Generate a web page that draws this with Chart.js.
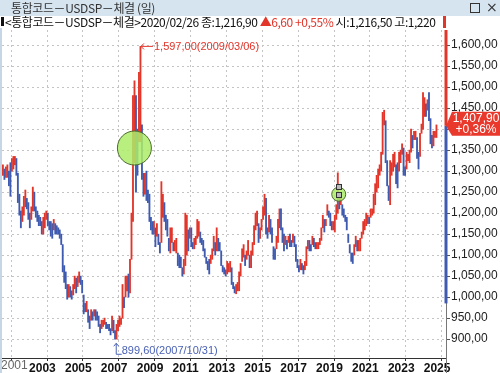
<!DOCTYPE html>
<html>
<head>
<meta charset="utf-8">
<script src="https://cdn.jsdelivr.net/npm/chart.js@4.4.1/dist/chart.umd.min.js"></script>
<style>
    body { margin: 0; background: #fff; width: 500px; height: 373px; overflow: hidden; position: relative; font-family: "Noto Sans CJK KR", sans-serif; }
    #chart { position: absolute; left: 0; top: 0; }
    #titlebar { position: absolute; left: 0; top: 0; width: 500px; height: 16px; background: #d6e4f0; color: #333; font-size: 12px; line-height: 16px; z-index: 2; }
    #titlebar .t { position: absolute; left: 11px; top: 0; letter-spacing: -0.4px; }
    #titlebar .box { position: absolute; left: 470px; top: 3px; width: 8px; height: 8px; border: 1.5px solid #333; }
    #titlebar .x { position: absolute; left: 486px; top: -1px; font-size: 14px; font-family: "DejaVu Sans", sans-serif; color: #333; }
    #infoline { position: absolute; left: 0; top: 15px; height: 13px; width: 500px; font-size: 12px; line-height: 13px; color: #111; white-space: nowrap; z-index: 2; letter-spacing: -0.45px; }
    #infoline .mark { position: absolute; left: 1px; top: 2px; width: 3px; height: 9px; background: #111; }
    #infoline .txt { position: absolute; left: 5px; top: 0; }
    #infoline .up { color: #e2362b; }
    #infoline .cursor { position: absolute; left: 443px; top: 1px; width: 3px; height: 12px; background: #e2362b; }
    #leftstrip { position: absolute; left: 0; top: 28px; width: 2px; height: 345px; background: #c6d6e6; z-index: 2; }
</style>
</head>
<body>
<canvas id="chart" width="500" height="373"></canvas>
<div id="titlebar"><span class="t">통합코드－USDSP－체결 (일)</span><div class="box"></div><span class="x">×</span></div>
<div id="infoline"><span class="mark"></span><span class="txt">&lt;통합코드－USDSP－체결&gt;2020/02/26 종:1,216,90 <span class="up">▲6,60 +0,55%</span> 시:1,216,50 고:1,220</span><span class="cursor"></span></div>
<div id="leftstrip"></div>
<script>
// Monthly USD/KRW ranges, Jul 2001 .. Sep 2025
const startYear = 2001;
const startMonth = 7;

const lows = [
    1290, 1280, 1285, 1285, 1265, 1240,
    1300, 1305, 1315, 1290, 1225, 1195, 1165, 1180, 1195, 1215, 1210, 1185,
    1165, 1185, 1205, 1205, 1190, 1180, 1170, 1170, 1150, 1150, 1165, 1185,
    1170, 1160, 1145, 1140, 1160, 1150, 1150, 1150, 1140, 1125, 1060, 1035,
    1020, 995, 1000, 1000, 995, 1005, 1020, 1010, 1025, 1035, 1030, 1010,
    960, 965, 965, 940, 925, 945, 945, 955, 945, 945, 930, 915,
    925, 930, 935, 925, 925, 920, 910, 920, 915, 900, 900, 920,
    930, 935, 950, 975, 1000, 1015, 1000, 1010, 1090, 1180, 1320, 1250,
    1290, 1370, 1370, 1280, 1240, 1245, 1230, 1225, 1180, 1160, 1150, 1150,
    1120, 1145, 1125, 1105, 1130, 1190, 1180, 1160, 1145, 1110, 1105, 1130,
    1110, 1110, 1105, 1075, 1070, 1070, 1050, 1055, 1075, 1100, 1110, 1140,
    1120, 1115, 1115, 1125, 1140, 1145, 1130, 1125, 1110, 1095, 1080, 1065,
    1055, 1080, 1090, 1110, 1100, 1110, 1110, 1110, 1075, 1060, 1055, 1050,
    1055, 1060, 1060, 1030, 1020, 1010, 1008, 1015, 1015, 1050, 1085, 1095,
    1075, 1090, 1100, 1070, 1070, 1100, 1125, 1160, 1170, 1130, 1140, 1160,
    1185, 1195, 1150, 1140, 1155, 1150, 1130, 1090, 1090, 1115, 1130, 1165,
    1160, 1130, 1110, 1125, 1115, 1130, 1120, 1120, 1130, 1120, 1085, 1070,
    1060, 1065, 1065, 1055, 1065, 1075, 1115, 1110, 1110, 1125, 1120, 1115,
    1115, 1115, 1125, 1135, 1165, 1155, 1170, 1195, 1190, 1170, 1160, 1160,
    1155, 1185, 1200, 1210, 1220, 1195, 1190, 1180, 1160, 1130, 1105, 1085,
    1080, 1100, 1120, 1110, 1110, 1110, 1140, 1150, 1160, 1170, 1175, 1175,
    1190, 1195, 1200, 1220, 1250, 1260, 1290, 1300, 1340, 1410, 1320, 1265,
    1230, 1220, 1290, 1300, 1310, 1270, 1260, 1300, 1320, 1340, 1290, 1290,
    1305, 1325, 1320, 1345, 1355, 1375, 1375, 1330, 1305, 1335, 1390, 1400,
    1430, 1430, 1445, 1420, 1365, 1355, 1360, 1380, 1380
];

const highs = [
    1315, 1305, 1310, 1315, 1300, 1320,
    1330, 1335, 1335, 1330, 1295, 1245, 1205, 1215, 1240, 1255, 1235, 1225,
    1200, 1215, 1262, 1250, 1215, 1205, 1195, 1190, 1180, 1190, 1200, 1205,
    1200, 1180, 1180, 1175, 1185, 1175, 1170, 1165, 1160, 1150, 1125, 1075,
    1060, 1030, 1030, 1025, 1015, 1030, 1050, 1045, 1050, 1060, 1050, 1040,
    1005, 985, 990, 970, 955, 970, 965, 970, 970, 965, 955, 935,
    945, 945, 950, 940, 935, 935, 925, 955, 945, 920, 935, 945,
    955, 950, 1030, 1000, 1050, 1050, 1055, 1090, 1200, 1480, 1515, 1480,
    1400, 1535, 1597, 1410, 1295, 1295, 1300, 1255, 1245, 1190, 1180, 1180,
    1165, 1175, 1150, 1130, 1275, 1245, 1225, 1195, 1185, 1140, 1165, 1165,
    1130, 1135, 1140, 1105, 1100, 1095, 1070, 1090, 1200, 1195, 1160, 1165,
    1165, 1130, 1140, 1145, 1185, 1180, 1155, 1140, 1135, 1115, 1095, 1085,
    1090, 1100, 1115, 1145, 1130, 1165, 1140, 1130, 1110, 1075, 1070, 1065,
    1085, 1080, 1085, 1070, 1035, 1025, 1030, 1035, 1060, 1080, 1115, 1125,
    1100, 1110, 1135, 1100, 1110, 1130, 1170, 1200, 1205, 1175, 1165, 1185,
    1215, 1245, 1235, 1165, 1195, 1185, 1165, 1120, 1115, 1145, 1185, 1210,
    1210, 1165, 1150, 1145, 1135, 1145, 1150, 1135, 1150, 1145, 1125, 1090,
    1075, 1090, 1080, 1075, 1085, 1120, 1135, 1135, 1125, 1145, 1140, 1130,
    1130, 1130, 1140, 1165, 1195, 1185, 1185, 1220, 1205, 1200, 1180, 1180,
    1195, 1220, 1296, 1235, 1245, 1220, 1210, 1195, 1190, 1150, 1125, 1105,
    1105, 1125, 1145, 1135, 1135, 1140, 1155, 1180, 1185, 1200, 1195, 1190,
    1210, 1210, 1245, 1270, 1290, 1305, 1315, 1345, 1440, 1445, 1420, 1325,
    1265, 1325, 1320, 1340, 1345, 1315, 1320, 1345, 1350, 1365, 1355, 1310,
    1345, 1340, 1350, 1400, 1385, 1395, 1395, 1380, 1345, 1390, 1412, 1487,
    1475, 1460, 1470, 1487, 1425, 1385, 1395, 1395, 1410
];

const yTicks = [900, 950, 1000, 1050, 1100, 1150, 1200, 1250, 1300, 1350, 1400, 1450, 1500, 1550, 1600];
const xTickYears = [2003, 2005, 2007, 2009, 2011, 2013, 2015, 2017, 2019, 2021, 2023, 2025];

// visible window
const xMin = 2001.49, xMax = 2026.24;
const yMin = 855, yMax = 1636;

// marked extremes and last price
const peak = { x: 2009.18, value: 1597.0, text: '1,597,00(2009/03/06)' };
const low = { x: 2007.83, value: 899.6, text: '899,60(2007/10/31)' };
const lastPrice = 1407.90;
const lastChange = '+0,36%';
const bigCircle = { x: 2008.87, value: 1355 };
const smallCircle = { x: 2020.26, value: 1245 };
const cursorMarks = [{ x: 2020.26, value: 1262 }, { x: 2020.28, value: 1243 }];

const RED = '#e2362b';
const BLUE = '#3f5bb0';

const fmt = v => {
    const parts = v.toFixed(2).split('.');
    return parts[0].replace(/\B(?=(\d{3})+(?!\d))/g, ',') + ',' + parts[1];
};

const bars = lows.map((lo, i) => {
    const m = startMonth - 1 + i;
    const year = startYear + Math.floor(m / 12);
    return { x: year + ((m % 12) + 0.5) / 12, y: [lo, highs[i]] };
});
const barColors = bars.map((b, i) => {
    if (i === 0) return RED;
    const mid = (b.y[0] + b.y[1]) / 2;
    const prev = (bars[i - 1].y[0] + bars[i - 1].y[1]) / 2;
    return mid >= prev ? RED : BLUE;
});

const decorations = {
    id: 'decorations',
    afterDraw(chart) {
        const { ctx, chartArea, scales: { x, y } } = chart;
        ctx.save();

        // green markers
        const circle = (c, r) => {
            ctx.beginPath();
            ctx.arc(x.getPixelForValue(c.x), y.getPixelForValue(c.value), r, 0, Math.PI * 2);
            ctx.fillStyle = 'rgba(172, 236, 104, 0.85)';
            ctx.fill();
            ctx.lineWidth = 1;
            ctx.strokeStyle = '#4d6b2c';
            ctx.stroke();
        };
        circle(bigCircle, 17);
        circle(smallCircle, 7);
        cursorMarks.forEach(c => {
            const px = Math.round(x.getPixelForValue(c.x)), py = Math.round(y.getPixelForValue(c.value));
            ctx.fillStyle = '#bbb';
            ctx.fillRect(px - 2, py - 2, 5, 5);
            ctx.strokeStyle = '#333';
            ctx.strokeRect(px - 2.5, py - 2.5, 5, 5);
        });

        // peak label
        ctx.font = '11px "Liberation Sans", sans-serif';
        ctx.textBaseline = 'middle';
        let px = x.getPixelForValue(peak.x), py = y.getPixelForValue(peak.value);
        ctx.strokeStyle = RED;
        ctx.fillStyle = RED;
        ctx.lineWidth = 1;
        ctx.beginPath();
        ctx.moveTo(px + 1, py);
        ctx.lineTo(px + 13, py);
        ctx.moveTo(px + 1, py);
        ctx.lineTo(px + 4, py - 3);
        ctx.moveTo(px + 1, py);
        ctx.lineTo(px + 4, py + 3);
        ctx.stroke();
        ctx.fillText(peak.text, px + 14, py + 1);

        // low label
        px = x.getPixelForValue(low.x);
        py = y.getPixelForValue(low.value);
        ctx.strokeStyle = '#4a62b5';
        ctx.fillStyle = '#4a62b5';
        ctx.beginPath();
        ctx.moveTo(px + 0.5, py + 4);
        ctx.lineTo(px + 0.5, py + 15);
        ctx.lineTo(px + 6, py + 15);
        ctx.moveTo(px + 0.5, py + 4);
        ctx.lineTo(px - 2, py + 7);
        ctx.moveTo(px + 0.5, py + 4);
        ctx.lineTo(px + 3, py + 7);
        ctx.stroke();
        ctx.fillText(low.text, px + 6, py + 12);

        // coloured price axis and axis extension
        const ax = chartArea.right;
        const pricePx = y.getPixelForValue(lastPrice);
        ctx.strokeStyle = '#777';
        ctx.beginPath();
        ctx.moveTo(ax + 0.5, chartArea.bottom);
        ctx.lineTo(ax + 0.5, chart.height);
        ctx.stroke();
        ctx.lineWidth = 3;
        ctx.strokeStyle = RED;
        ctx.beginPath();
        ctx.moveTo(ax, chartArea.top);
        ctx.lineTo(ax, pricePx);
        ctx.stroke();
        ctx.strokeStyle = BLUE;
        ctx.beginPath();
        ctx.moveTo(ax, pricePx);
        ctx.lineTo(ax, y.getPixelForValue(985));
        ctx.stroke();

        // price tag
        ctx.fillStyle = '#e8392c';
        ctx.beginPath();
        ctx.moveTo(ax, pricePx);
        ctx.lineTo(ax + 6, pricePx - 14);
        ctx.lineTo(chart.width, pricePx - 14);
        ctx.lineTo(chart.width, pricePx + 10);
        ctx.lineTo(ax + 6, pricePx + 10);
        ctx.closePath();
        ctx.fill();
        ctx.fillStyle = '#fff';
        ctx.font = '12px "Liberation Sans", sans-serif';
        ctx.textAlign = 'center';
        ctx.fillText(fmt(lastPrice), ax + 30, pricePx - 7);
        ctx.fillText(lastChange, ax + 30, pricePx + 4);

        // clipped first year label
        ctx.textAlign = 'left';
        ctx.fillStyle = '#666';
        ctx.font = '12px "Liberation Sans", sans-serif';
        ctx.textBaseline = 'top';
        ctx.fillText('2001', 1, chartArea.bottom + 2);
        ctx.restore();
    }
};

new Chart(document.getElementById('chart'), {
    type: 'bar',
    data: {
        datasets: [{
            data: bars,
            backgroundColor: barColors,
            barThickness: 1.2,
            borderWidth: 0
        }]
    },
    options: {
        responsive: false,
        animation: false,
        layout: { padding: { top: 30, left: 2, right: 0, bottom: 0 } },
        plugins: { legend: { display: false }, tooltip: { enabled: false } },
        scales: {
            x: {
                type: 'linear',
                min: xMin,
                max: xMax,
                offset: false,
                afterBuildTicks: s => { s.ticks = xTickYears.map(v => ({ value: v })); },
                afterFit: s => { s.height = 15; },
                grid: { color: '#c4c4c4', tickLength: 3, tickColor: '#333' },
                border: { color: '#333', dash: [2, 3] },
                ticks: {
                    align: 'start',
                    padding: 0,
                    maxRotation: 0,
                    autoSkip: false,
                    color: '#111',
                    font: { family: 'Liberation Sans', size: 12, weight: 'bold' },
                    callback: v => String(v)
                }
            },
            y: {
                position: 'right',
                min: yMin,
                max: yMax,
                afterBuildTicks: s => { s.ticks = yTicks.map(v => ({ value: v })); },
                afterFit: s => { s.width = 54; },
                grid: { color: '#c4c4c4', tickLength: 4, tickColor: '#555' },
                border: { color: '#777', dash: [2, 3] },
                ticks: {
                    padding: 1,
                    color: '#222',
                    font: { family: 'Liberation Sans', size: 12 },
                    callback: v => fmt(v)
                }
            }
        }
    },
    plugins: [decorations]
});
</script>
</body>
</html>
